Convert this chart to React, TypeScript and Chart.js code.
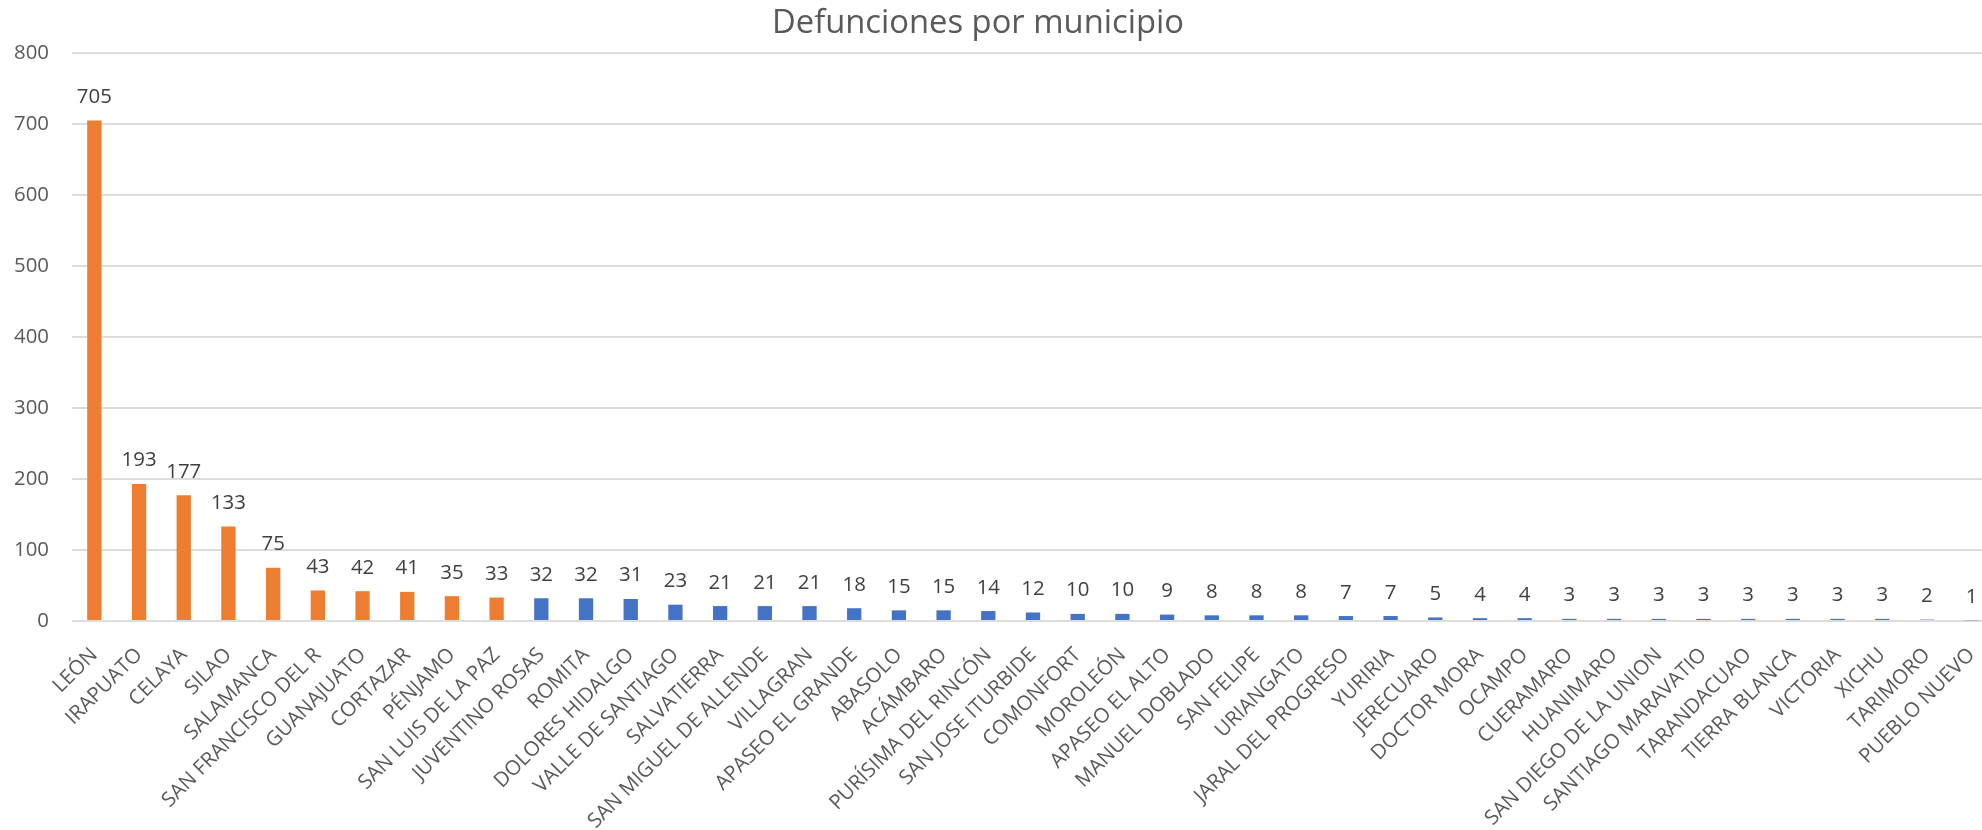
import React, { useEffect, useRef } from "react";
import { Chart, registerables } from "chart.js";

Chart.register(...registerables);

const TITLE = "Defunciones por municipio";

const municipios = [
  "LEÓN", "IRAPUATO", "CELAYA", "SILAO", "SALAMANCA", "SAN FRANCISCO DEL R",
  "GUANAJUATO", "CORTAZAR", "PÉNJAMO", "SAN LUIS DE LA PAZ", "JUVENTINO ROSAS",
  "ROMITA", "DOLORES HIDALGO", "VALLE DE SANTIAGO", "SALVATIERRA",
  "SAN MIGUEL DE ALLENDE", "VILLAGRAN", "APASEO EL GRANDE", "ABASOLO", "ACÁMBARO",
  "PURÍSIMA DEL RINCÓN", "SAN JOSE ITURBIDE", "COMONFORT", "MOROLEÓN",
  "APASEO EL ALTO", "MANUEL DOBLADO", "SAN FELIPE", "URIANGATO",
  "JARAL DEL PROGRESO", "YURIRIA", "JERECUARO", "DOCTOR MORA", "OCAMPO",
  "CUERAMARO", "HUANIMARO", "SAN DIEGO DE LA UNION", "SANTIAGO MARAVATIO",
  "TARANDACUAO", "TIERRA BLANCA", "VICTORIA", "XICHU", "TARIMORO", "PUEBLO NUEVO",
];

const defunciones = [
  705, 193, 177, 133, 75, 43, 42, 41, 35, 33, 32, 32, 31, 23, 21, 21, 21, 18, 15,
  15, 14, 12, 10, 10, 9, 8, 8, 8, 7, 7, 5, 4, 4, 3, 3, 3, 3, 3, 3, 3, 3, 2, 1,
];

// municipalities highlighted in orange
const destacados = [
  "LEÓN", "IRAPUATO", "CELAYA", "SILAO", "SALAMANCA", "SAN FRANCISCO DEL R",
  "GUANAJUATO", "CORTAZAR", "PÉNJAMO", "SAN LUIS DE LA PAZ",
];

const Y_MIN = 0;
const Y_MAX = 800;
const Y_STEP = 100;

const ORANGE = "#ED7D31";
const BLUE = "#4472C4";
const FONT = "'Open Sans', 'Noto Sans', sans-serif";

// font size so that a sample text spans a given width (matches the reference text sizes)
function fitSize(sample: string, targetWidth: number): number {
  const ctx = document.createElement("canvas").getContext("2d");
  if (!ctx) return 20;
  ctx.font = `100px ${FONT}`;
  const w = ctx.measureText(sample).width;
  return w > 0 ? (100 * targetWidth) / w : 20;
}

export default function App() {
  const ref = useRef<HTMLCanvasElement | null>(null);

  useEffect(() => {
    const canvas = ref.current;
    if (!canvas) return;

    const titleSize = fitSize(TITLE, 412);
    const xSize = fitSize("SAN MIGUEL DE ALLENDE", 245);
    const ySize = fitSize("800", 35);
    const labelSize = fitSize("705", 35);

    const valueLabels = {
      id: "valueLabels",
      afterDatasetsDraw(chart: any) {
        const ctx = chart.ctx;
        const meta = chart.getDatasetMeta(0);
        ctx.save();
        ctx.font = `${labelSize}px ${FONT}`;
        ctx.fillStyle = "#404040";
        ctx.textAlign = "center";
        ctx.textBaseline = "alphabetic";
        meta.data.forEach((bar: any, i: number) => {
          ctx.fillText(String(defunciones[i]), bar.x, bar.y - 17.5);
        });
        ctx.restore();
      },
    };

    const titlePlugin = {
      id: "customTitle",
      afterDraw(chart: any) {
        const ctx = chart.ctx;
        ctx.save();
        ctx.font = `${titleSize}px ${FONT}`;
        ctx.fillStyle = "#595959";
        ctx.textAlign = "center";
        ctx.textBaseline = "alphabetic";
        ctx.fillText(TITLE, 978, 33);
        ctx.restore();
      },
    };

    const chart = new Chart(canvas, {
      type: "bar",
      data: {
        labels: municipios,
        datasets: [
          {
            data: defunciones,
            backgroundColor: municipios.map((m) =>
              destacados.includes(m) ? ORANGE : BLUE
            ),
            barPercentage: 0.32,
            categoryPercentage: 1,
          },
        ],
      },
      options: {
        animation: false,
        responsive: false,
        layout: { padding: { left: 0, right: 6, top: 53, bottom: 0 } },
        plugins: {
          legend: { display: false },
          title: { display: false },
          tooltip: { enabled: false },
        },
        scales: {
          x: {
            grid: { display: false, drawTicks: false },
            border: { display: false },
            ticks: {
              autoSkip: false,
              minRotation: 45,
              maxRotation: 45,
              color: "#595959",
              font: { family: FONT, size: xSize },
              padding: 22,
              labelOffset: 0,
            },
            afterFit(scale: any) {
              scale.height = 209;
              scale.paddingLeft = 0;
              scale.paddingRight = 0;
            },
          },
          y: {
            min: Y_MIN,
            max: Y_MAX,
            grid: { color: "#DCDCDC", lineWidth: 2, drawTicks: false },
            border: { display: false },
            ticks: {
              stepSize: Y_STEP,
              color: "#595959",
              font: { family: FONT, size: ySize },
              padding: 23,
            },
            afterFit(scale: any) {
              scale.width = 72;
            },
          },
        },
      },
      plugins: [valueLabels, titlePlugin],
    });

    return () => chart.destroy();
  }, []);

  return (
    <div
      style={{
        position: "fixed",
        left: 0,
        top: 0,
        width: 1982,
        height: 830,
        overflow: "hidden",
        background: "#fff",
      }}
    >
      <canvas ref={ref} width={2000} height={830} style={{ width: 2000, height: 830 }} />
    </div>
  );
}
